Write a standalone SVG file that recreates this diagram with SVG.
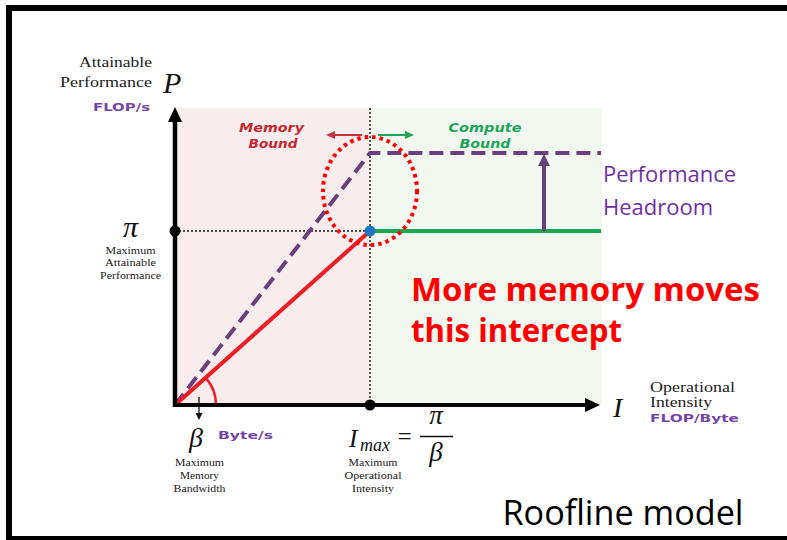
<svg xmlns="http://www.w3.org/2000/svg" width="787" height="540" viewBox="0 0 787 540">
<style>
.serif{font-family:"Liberation Serif","DejaVu Serif",serif;fill:#222}
.math{font-family:"Liberation Serif","DejaVu Serif",serif;font-style:italic;fill:#111}
.wide{font-family:"DejaVu Sans","Liberation Sans",sans-serif;font-weight:bold}
.unit{fill:#7445a8;font-size:10.5px}
.small{font-size:11px}
.sans{font-family:"Open Sans","Liberation Sans",sans-serif}
.dot{stroke:#111;stroke-width:1.4;stroke-dasharray:2 2;fill:none}
</style>
<defs>
<marker id="axisHead" markerUnits="userSpaceOnUse" markerWidth="16" markerHeight="16" refX="6" refY="7" orient="auto"><path d="M0,0 L15,7 L0,14 z" fill="#000"/></marker>
<marker id="purpleHead" markerUnits="userSpaceOnUse" markerWidth="14" markerHeight="14" refX="4" refY="6" orient="auto"><path d="M0,0 L12,6 L0,12 z" fill="#6b3e7e"/></marker>
<marker id="redHead" markerUnits="userSpaceOnUse" markerWidth="10" markerHeight="10" refX="3" refY="4" orient="auto"><path d="M0,0 L9,4 L0,8 z" fill="#c4323c"/></marker>
<marker id="greenHead" markerUnits="userSpaceOnUse" markerWidth="10" markerHeight="10" refX="3" refY="4" orient="auto"><path d="M0,0 L9,4 L0,8 z" fill="#1fa35a"/></marker>
<marker id="smallHead" markerUnits="userSpaceOnUse" markerWidth="8" markerHeight="8" refX="2" refY="3.5" orient="auto"><path d="M0,0 L7,3.5 L0,7 z" fill="#111"/></marker>
</defs>
<rect width="787" height="540" fill="#fff"/>
<g id="frame" fill="#000">
<rect x="6" y="5" width="781" height="6"/>
<rect x="6" y="5" width="6" height="535"/>
<rect x="6" y="536" width="781" height="4"/>
</g>
<g id="memory-region"><rect x="175" y="108" width="195" height="297" fill="#f8ecec"/></g>
<g id="compute-region"><rect x="370" y="108" width="232" height="297" fill="#f2f7ef"/></g>
<g id="connectors" fill="none">
<line class="dot" x1="370" y1="108" x2="370" y2="405"/>
<line class="dot" x1="175" y1="231" x2="370" y2="231"/>
<path d="M175,405 L370,153 L601,153" stroke="#6b3e7e" stroke-width="4" stroke-dasharray="14 7"/>
<line x1="175" y1="405" x2="370" y2="231" stroke="#ee1c25" stroke-width="4"/>
<line x1="370" y1="231" x2="601" y2="231" stroke="#1aa552" stroke-width="4"/>
<path d="M216,405 A41,41 0 0 0 205.6,377.7" stroke="#ee1c25" stroke-width="2.5"/>
<line x1="544" y1="231" x2="544" y2="162" stroke="#6b3e7e" stroke-width="4" marker-end="url(#purpleHead)"/>
<line x1="362" y1="135" x2="332" y2="135" stroke="#c4323c" stroke-width="2" marker-end="url(#redHead)"/>
<line x1="378" y1="135" x2="408" y2="135" stroke="#1fa35a" stroke-width="2" marker-end="url(#greenHead)"/>
<line x1="199" y1="397" x2="199" y2="415" stroke="#111" stroke-width="1.3" marker-end="url(#smallHead)"/>
<ellipse cx="370" cy="191" rx="47" ry="54" stroke="#ff0000" stroke-width="4" stroke-dasharray="3.5 4"/>
<line x1="175" y1="407" x2="175" y2="116" stroke="#000" stroke-width="4.5" marker-end="url(#axisHead)"/>
<line x1="173" y1="405" x2="591" y2="405" stroke="#000" stroke-width="4" marker-end="url(#axisHead)"/>
</g>
<g id="pi-point"><circle cx="175" cy="231" r="5.5" fill="#000"/></g>
<g id="imax-point"><circle cx="370" cy="405" r="5.5" fill="#000"/></g>
<g id="ridge-point"><circle cx="370" cy="231" r="5.5" fill="#1f74c4"/></g>
<g id="y-axis-label">
<text class="serif" x="152" y="67" font-size="15" text-anchor="end" textLength="73" lengthAdjust="spacingAndGlyphs">Attainable</text>
<text class="serif" x="152" y="87" font-size="15" text-anchor="end" textLength="92" lengthAdjust="spacingAndGlyphs">Performance</text>
<text class="math" x="163" y="93" font-size="30">P</text>
<text class="wide unit" x="93" y="110.5" textLength="57" lengthAdjust="spacingAndGlyphs">FLOP/s</text>
</g>
<g id="pi-label">
<text class="math" x="130.5" y="237" font-size="30" text-anchor="middle">π</text>
<text class="serif small" x="130.5" y="253.5" text-anchor="middle" textLength="50" lengthAdjust="spacingAndGlyphs">Maximum</text>
<text class="serif small" x="130.5" y="266" text-anchor="middle" textLength="51" lengthAdjust="spacingAndGlyphs">Attainable</text>
<text class="serif small" x="130.5" y="279" text-anchor="middle" textLength="61" lengthAdjust="spacingAndGlyphs">Performance</text>
</g>
<g id="memory-bound">
<text class="wide" x="271.5" y="132" font-size="12" font-style="italic" fill="#c1272d" text-anchor="middle" textLength="65" lengthAdjust="spacingAndGlyphs">Memory</text>
<text class="wide" x="273" y="148" font-size="12" font-style="italic" fill="#c1272d" text-anchor="middle" textLength="49" lengthAdjust="spacingAndGlyphs">Bound</text>
</g>
<g id="compute-bound">
<text class="wide" x="485" y="131.5" font-size="12" font-style="italic" fill="#1aa55a" text-anchor="middle" textLength="73" lengthAdjust="spacingAndGlyphs">Compute</text>
<text class="wide" x="485" y="147.5" font-size="12" font-style="italic" fill="#1aa55a" text-anchor="middle" textLength="51" lengthAdjust="spacingAndGlyphs">Bound</text>
</g>
<g id="headroom-label">
<text class="sans" x="603" y="182" font-size="22" fill="#7030a0">Performance</text>
<text class="sans" x="603" y="214.5" font-size="22" fill="#7030a0">Headroom</text>
</g>
<g id="note">
<text class="sans" x="411" y="301" font-size="32" font-weight="bold" fill="#ff0000" textLength="349" lengthAdjust="spacingAndGlyphs">More memory moves</text>
<text class="sans" x="411" y="341.5" font-size="32" font-weight="bold" fill="#ff0000" textLength="211" lengthAdjust="spacingAndGlyphs">this intercept</text>
</g>
<g id="beta-label">
<text class="math" x="196" y="447" font-size="28" text-anchor="middle">β</text>
<text class="wide unit" x="218" y="439" font-size="11" textLength="55" lengthAdjust="spacingAndGlyphs">Byte/s</text>
<text class="serif small" x="199.5" y="466" text-anchor="middle" textLength="49" lengthAdjust="spacingAndGlyphs">Maximum</text>
<text class="serif small" x="199.5" y="479" text-anchor="middle" textLength="39" lengthAdjust="spacingAndGlyphs">Memory</text>
<text class="serif small" x="199.5" y="491.5" text-anchor="middle" textLength="52" lengthAdjust="spacingAndGlyphs">Bandwidth</text>
</g>
<g id="imax-label">
<text class="math" x="349" y="447" font-size="25">I</text>
<text class="math" x="360" y="451" font-size="18" textLength="30" lengthAdjust="spacingAndGlyphs">max</text>
<text class="math" x="396" y="445" font-size="25" font-style="normal">=</text>
<text class="math" x="436" y="424" font-size="27" text-anchor="middle">π</text>
<line x1="420" y1="436.5" x2="453" y2="436.5" stroke="#111" stroke-width="1.5"/>
<text class="math" x="436" y="461" font-size="27" text-anchor="middle">β</text>
<text class="serif small" x="373" y="466" text-anchor="middle" textLength="49" lengthAdjust="spacingAndGlyphs">Maximum</text>
<text class="serif small" x="373" y="479" text-anchor="middle" textLength="57" lengthAdjust="spacingAndGlyphs">Operational</text>
<text class="serif small" x="373" y="491.5" text-anchor="middle" textLength="42" lengthAdjust="spacingAndGlyphs">Intensity</text>
</g>
<g id="x-axis-label">
<text class="math" x="613" y="417" font-size="28">I</text>
<text class="serif" x="650" y="391.5" font-size="15" textLength="85" lengthAdjust="spacingAndGlyphs">Operational</text>
<text class="serif" x="650" y="406.5" font-size="15" textLength="62" lengthAdjust="spacingAndGlyphs">Intensity</text>
<text class="wide unit" x="650" y="421.5" textLength="89" lengthAdjust="spacingAndGlyphs">FLOP/Byte</text>
</g>
<g id="title">
<text class="sans" x="502.5" y="525" font-size="34" fill="#000" textLength="241" lengthAdjust="spacingAndGlyphs">Roofline model</text>
</g>
</svg>
